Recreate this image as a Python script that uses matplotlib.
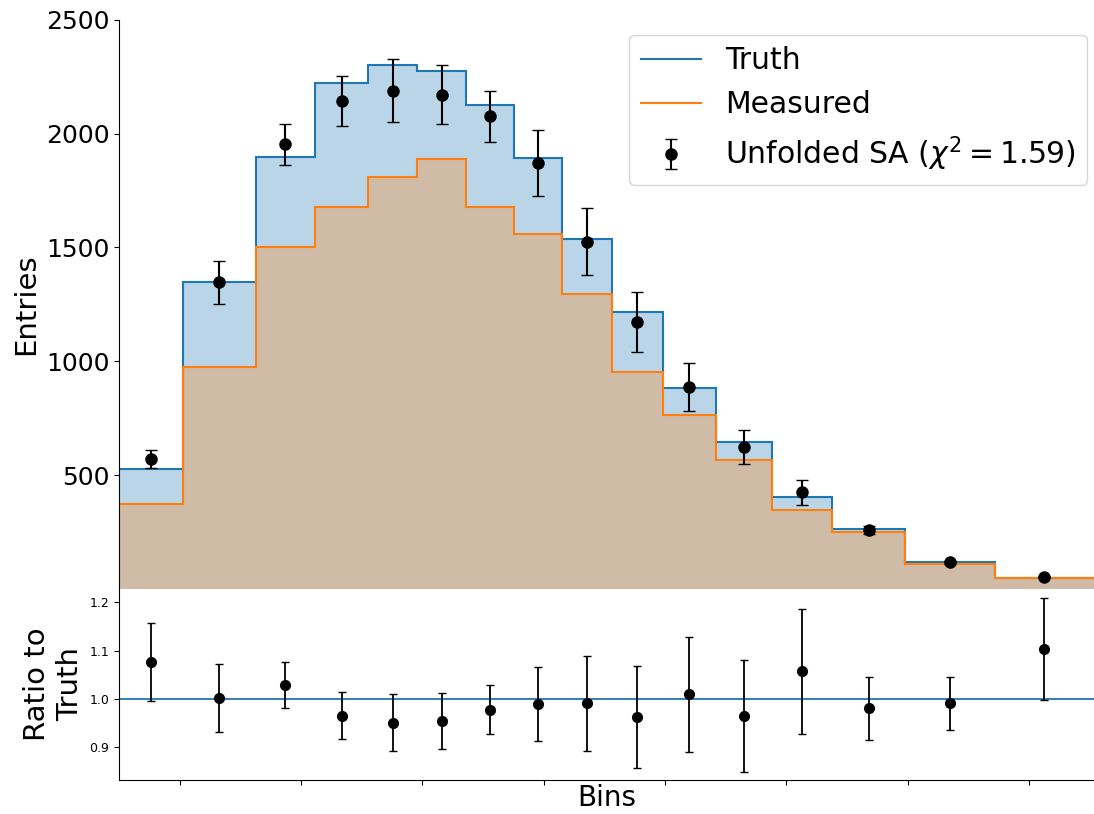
import numpy as np
import matplotlib
matplotlib.use("Agg")
import matplotlib.pyplot as plt

# ---- data ----
bin_edges = [-0.5, 0.024, 0.626, 1.117, 1.554, 1.959, 2.363, 2.759, 3.155,
             3.564, 3.980, 4.417, 4.880, 5.375, 5.981, 6.719, 7.536]
truth = [526, 1346, 1899, 2221, 2303, 2273, 2126, 1892, 1539, 1215,
         882, 645, 404, 262, 120, 49]
measured = [373, 974, 1504, 1677, 1808, 1889, 1677, 1560, 1294, 952,
            763, 566, 346, 251, 110, 47]
unfolded = [570, 1346, 1952, 2143, 2189, 2170, 2075, 1870, 1526, 1171,
            886, 623, 425, 259, 118, 52]
unfolded_err = [40, 96, 88, 110, 139, 130, 111, 146, 149, 132,
                105, 75, 55, 17, 7, 5]
ratio = [1.077, 1.002, 1.029, 0.965, 0.950, 0.954, 0.977, 0.988, 0.990,
         0.961, 1.009, 0.964, 1.057, 0.980, 0.990, 1.103]
ratio_err = [0.081, 0.071, 0.048, 0.048, 0.059, 0.058, 0.051, 0.077, 0.098,
             0.106, 0.120, 0.116, 0.130, 0.066, 0.055, 0.106]
chi2 = 1.59
ratio_xticks = [0, 1, 2, 3, 4, 5, 6, 7]
entries_ticks = [500, 1000, 1500, 2000, 2500]
ratio_ticks = [0.9, 1.0, 1.1, 1.2]

edges = np.array(bin_edges)
centers = 0.5 * (edges[:-1] + edges[1:])

fig = plt.figure(figsize=(10.94, 8.14), dpi=100)
ax = fig.add_axes([0.1088, 0.2764, 0.8912, 0.6994])
axr = fig.add_axes([0.1088, 0.0418, 0.8912, 0.2346])

# top panel
ax.stairs(truth, edges, fill=True, color="#1f77b4", alpha=0.3, linewidth=0)
ax.stairs(measured, edges, fill=True, color="#ff7f0e", alpha=0.3, linewidth=0)
ax.stairs(truth, edges, color="#1f77b4", linewidth=1.5, label="Truth", baseline=None)
ax.stairs(measured, edges, color="#ff7f0e", linewidth=1.5, label="Measured", baseline=None)
ax.errorbar(centers, unfolded, yerr=unfolded_err, fmt="o", color="black",
            markersize=8, capsize=4, elinewidth=1.5,
            label=r"Unfolded SA ($\chi^2 = %.2f$)" % chi2)
ax.set_xlim(edges[0], edges[-1])
ax.set_ylim(0, 2500)
ax.set_yticks(entries_ticks)
ax.tick_params(axis="y", labelsize=18)
ax.tick_params(axis="x", bottom=False, labelbottom=False)
for s in ["top", "right", "bottom"]:
    ax.spines[s].set_visible(False)
ax.set_ylabel("Entries", fontsize=21)
ax.legend(loc="upper right", fontsize=21.5, bbox_to_anchor=(0.9928, 0.974),
          borderaxespad=0)

# ratio panel
axr.axhline(1.0, color="#1f77b4", linewidth=1.3)
axr.errorbar(centers, ratio, yerr=ratio_err, fmt="o", color="black",
             markersize=7, capsize=3, elinewidth=1.3)
axr.set_xlim(edges[0], edges[-1])
axr.set_ylim(0.831, 1.228)
axr.set_yticks(ratio_ticks)
axr.set_xticks(ratio_xticks)
axr.set_xticklabels([])
axr.tick_params(axis="y", labelsize=9)
for s in ["top", "right"]:
    axr.spines[s].set_visible(False)
axr.set_ylabel("Ratio to\nTruth", fontsize=21)
axr.set_xlabel("Bins", fontsize=20, labelpad=-4)

fig.savefig("out.png", dpi=100)
